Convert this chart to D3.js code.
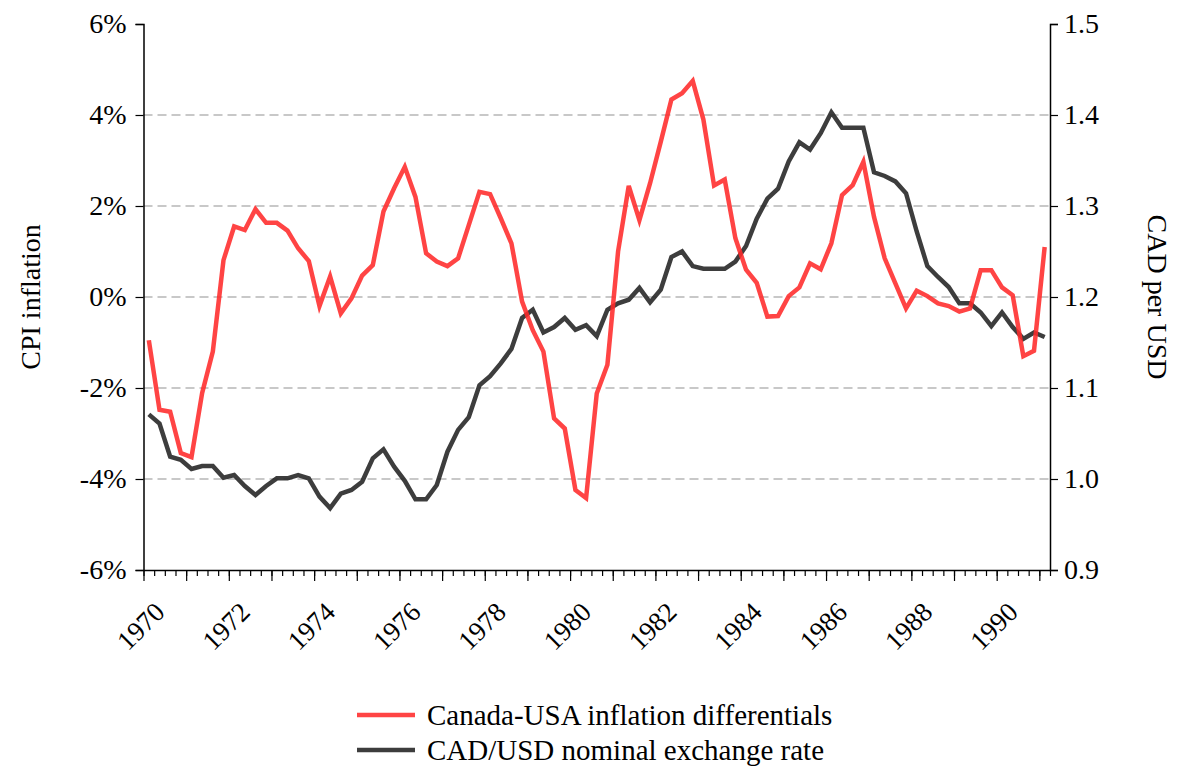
<!DOCTYPE html>
<meta charset="utf-8">
<style>
  body { margin: 0; background: #fff; }
  text { font-family: "Liberation Serif", "Times New Roman", serif; }
</style>

<!-- Load d3.js -->
<script src="https://d3js.org/d3.v7.min.js"></script>

<!-- Create a div where the graph will take place -->
<div id="my_dataviz"></div>

<script>

// quarterly observations, 1970Q1 .. 1991Q1
var startYear = 1970;

// Canada-USA inflation differential (%)
var inflationDiff = [
  -0.95, -2.48, -2.52, -3.43, -3.52, -2.11, -1.2, 0.81, 1.55, 1.47,
  1.93, 1.63, 1.63, 1.46, 1.07, 0.79, -0.2, 0.45, -0.36, -0.03,
  0.47, 0.7, 1.88, 2.39, 2.86, 2.2, 0.96, 0.78, 0.68, 0.85,
  1.58, 2.31, 2.26, 1.73, 1.18, -0.1, -0.73, -1.2, -2.67, -2.89,
  -4.24, -4.42, -2.12, -1.49, 1.0, 2.44, 1.69, 2.5, 3.41, 4.34,
  4.48, 4.75, 3.9, 2.45, 2.58, 1.29, 0.6, 0.31, -0.43, -0.42,
  0.02, 0.21, 0.74, 0.61, 1.18, 2.24, 2.46, 2.97, 1.76, 0.85,
  0.3, -0.25, 0.14, 0.02, -0.14, -0.2, -0.32, -0.25, 0.59, 0.59,
  0.21, 0.04, -1.3, -1.18, 1.1
];

// CAD per USD
var exchangeRate = [
  1.071, 1.061, 1.0245, 1.021, 1.011, 1.0143, 1.0143, 1.0014, 1.0044, 0.9923,
  0.9824, 0.9923, 1.0007, 1.0007, 1.0044, 1.0007, 0.9806, 0.968, 0.984, 0.988,
  0.997, 1.0227, 1.0326, 1.0135, 0.998, 0.9777, 0.9777, 0.9934, 1.03, 1.054,
  1.068, 1.103, 1.113, 1.127, 1.143, 1.177, 1.186, 1.161, 1.167, 1.177,
  1.164, 1.169, 1.157, 1.186, 1.193, 1.197, 1.21, 1.194, 1.208, 1.244,
  1.25, 1.234, 1.231, 1.231, 1.231, 1.239, 1.256, 1.286, 1.308, 1.319,
  1.349, 1.37, 1.362, 1.38, 1.403, 1.386, 1.386, 1.386, 1.337, 1.333,
  1.327, 1.314, 1.272, 1.234, 1.222, 1.211, 1.193, 1.193, 1.183, 1.168,
  1.183, 1.167, 1.154, 1.161, 1.156
];

var leftTicks = [-6, -4, -2, 0, 2, 4, 6];
var rightTicks = [0.9, 1.0, 1.1, 1.2, 1.3, 1.4, 1.5];
var gridTicks = [-4, -2, 0, 2, 4];
var yearTicks = d3.range(1970, 1992);
var seriesNames = ["Canada-USA inflation differentials", "CAD/USD nominal exchange rate"];

var data = inflationDiff.map(function(v, i) {
  return { t: startYear + 0.125 + 0.25 * i, infl: v, fx: exchangeRate[i] };
});

// set the dimensions of the graph
var width = 1178, height = 768;
var plot = {left: 143.5, right: 1050, top: 24, bottom: 570};

var svg = d3.select("#my_dataviz")
  .append("svg")
    .attr("width", width)
    .attr("height", height);

// scales
var x = d3.scaleLinear()
  .domain([1970, 1991.25])
  .range([plot.left, plot.right]);

var y = d3.scaleLinear()
  .domain([-6, 6])
  .range([plot.bottom, plot.top]);

var y2 = d3.scaleLinear()
  .domain([0.9, 1.5])
  .range([plot.bottom, plot.top]);

// dashed horizontal gridlines
svg.append("g")
  .selectAll("line")
  .data(gridTicks)
  .enter()
  .append("line")
    .attr("x1", plot.left)
    .attr("x2", plot.right)
    .attr("y1", function(d) { return y(d); })
    .attr("y2", function(d) { return y(d); })
    .attr("stroke", "#c8c8c8")
    .attr("stroke-width", 2)
    .attr("stroke-dasharray", "9,5");

// left axis
var leftAxis = svg.append("g")
  .attr("transform", "translate(" + plot.left + ",0)")
  .call(d3.axisLeft(y).tickValues(leftTicks).tickSize(8).tickPadding(9)
    .tickFormat(function(d) { return d + "%"; }));

// right axis
var rightAxis = svg.append("g")
  .attr("transform", "translate(" + plot.right + ",0)")
  .call(d3.axisRight(y2).tickValues(rightTicks).tickSize(8).tickPadding(6)
    .tickFormat(d3.format(".1f")));

// bottom axis: quarterly minor ticks, yearly major ticks
svg.append("g")
  .attr("transform", "translate(0," + plot.bottom + ")")
  .call(d3.axisBottom(x).tickValues(d3.range(1970, 1991.26, 0.25)).tickSize(6).tickFormat(""))
  .call(function(g) { g.select(".domain").remove(); });

var bottomAxis = svg.append("g")
  .attr("transform", "translate(0," + plot.bottom + ")")
  .call(d3.axisBottom(x).tickValues(yearTicks).tickSize(11).tickSizeOuter(0).tickFormat(""));

// rotated year labels every two years
svg.append("g")
  .selectAll("text")
  .data(yearTicks.filter(function(d) { return d % 2 === 0; }))
  .enter()
  .append("text")
    .attr("transform", function(d) { return "translate(" + (x(d) - 3) + "," + 626 + ") rotate(-45)"; })
    .attr("text-anchor", "middle")
    .attr("dy", "0.35em")
    .style("font-size", "27px")
    .text(function(d) { return d; });

[leftAxis, rightAxis, bottomAxis].forEach(function(g) {
  g.selectAll("text").style("font-size", "28px").attr("fill", "#000").style("font-family", "'Liberation Serif', serif");
});
svg.selectAll(".domain").attr("stroke", "#000").attr("stroke-width", 1.5);
svg.selectAll(".tick line").attr("stroke", "#000").attr("stroke-width", 1.2);

// axis titles
svg.append("text")
  .attr("transform", "translate(30," + y(0) + ") rotate(-90)")
  .attr("text-anchor", "middle")
  .attr("dy", "0.35em")
  .style("font-size", "28px")
  .text("CPI inflation");

svg.append("text")
  .attr("transform", "translate(1158," + y(0) + ") rotate(90)")
  .attr("text-anchor", "middle")
  .attr("dy", "0.35em")
  .style("font-size", "28px")
  .text("CAD per USD");

// exchange rate line
svg.append("path")
  .datum(data)
  .attr("d", d3.line()
    .x(function(d) { return x(d.t); })
    .y(function(d) { return y2(d.fx); }))
  .attr("fill", "none")
  .attr("stroke", "#222")
  .attr("stroke-opacity", 0.88)
  .attr("stroke-width", 4.5);

// inflation differential line
svg.append("path")
  .datum(data)
  .attr("d", d3.line()
    .x(function(d) { return x(d.t); })
    .y(function(d) { return y(d.infl); }))
  .attr("fill", "none")
  .attr("stroke", "#ff2a2a")
  .attr("stroke-opacity", 0.88)
  .attr("stroke-width", 4.5);

// legend
var legendColors = ["#ff2a2a", "#222"];
var legend = svg.append("g")
  .selectAll("g")
  .data(seriesNames)
  .enter()
  .append("g")
    .attr("transform", function(d, i) { return "translate(357," + (715 + i * 35) + ")"; });

legend.append("line")
  .attr("x1", 0)
  .attr("x2", 58)
  .attr("stroke", function(d, i) { return legendColors[i]; })
  .attr("stroke-opacity", 0.88)
  .attr("stroke-width", 4.5);

legend.append("text")
  .attr("x", 70)
  .attr("dy", "0.35em")
  .style("font-size", "29px")
  .text(function(d) { return d; });

</script>
